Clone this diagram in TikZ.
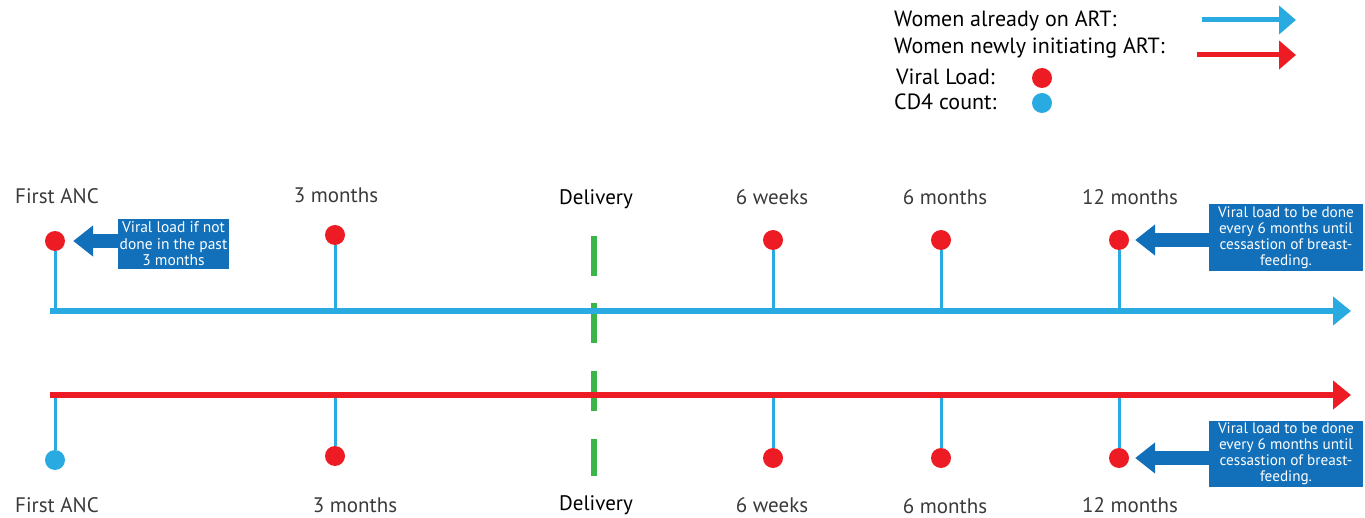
\documentclass[tikz,border=0pt]{standalone}
\usepackage{fontspec}
\setmainfont{PT Sans}
\usetikzlibrary{arrows.meta}
\definecolor{artblue}{HTML}{29ABE2}
\definecolor{artred}{HTML}{ED1C24}
\definecolor{delgreen}{HTML}{39B54A}
\definecolor{notebox}{HTML}{1170B9}
\definecolor{labgray}{HTML}{3A3A3A}
\tikzset{
  vldot/.style={circle, fill=artred, inner sep=0pt, minimum size=20pt},
  cddot/.style={circle, fill=artblue, inner sep=0pt, minimum size=20pt},
  tick/.style={artblue, line width=3pt},
  timelabel/.style={text=labgray, font=\fontsize{21}{25}\selectfont, inner sep=0pt},
  legtext/.style={anchor=west, font=\fontsize{22}{25}\selectfont, inner sep=0pt},
  notetext/.style={fill=notebox, text=white, align=center, inner sep=1pt,
    font=\fontsize{15.2}{16}\selectfont},
  notearrow/.style={notebox, line width=14pt, -{Triangle[length=20pt,width=30pt]}},
  bigline/.style={line width=6pt, -{Triangle[length=18pt,width=28pt]}},
  legline/.style={line width=5pt, -{Triangle[length=17pt,width=28pt]}},
}
\begin{document}
\begin{tikzpicture}[x=1pt,y=-1pt]
\useasboundingbox (0,0) rectangle (1365,518);

% legend
\node[legtext] (l1) at (894,21) {Women already on ART:};
\node[legtext] (l2) at (894,48) {Women newly initiating ART:};
\node[legtext] (l3) at (896,77) {Viral Load:};
\node[legtext] (l4) at (894,102) {CD4 count:};
\coordinate (la1) at (1202,20);
\coordinate (lb1) at (1296,20);
\coordinate (la2) at (1197,55);
\coordinate (lb2) at (1296,55);
\draw[legline, artblue] (la1) -- (lb1);
\draw[legline, artred] (la2) -- (lb2);
\node[vldot] (ldv) at (1042,78) {};
\node[cddot] (ldc) at (1042,103) {};

% delivery marker
\coordinate (dtop) at (594,236);
\coordinate (dbot) at (594,476);
\draw[delgreen, line width=6pt, dash pattern=on 40pt off 27.5pt] (dtop) -- (dbot);

% upper timeline: women already on ART
\coordinate (ua) at (50,311);
\coordinate (ub) at (1351,311);
\draw[bigline, artblue] (ua) -- (ub);
\node[vldot] (u1) at (55,241) {};
\node[vldot] (u2) at (335,235) {};
\node[vldot] (u3) at (773,240) {};
\node[vldot] (u4) at (941,240) {};
\node[vldot] (u5) at (1119,240) {};
\foreach \n in {1,...,5} \draw[tick] (u\n.south) -- (u\n.south |- ua);

\node[timelabel] (ut1) at (57,196) {First ANC};
\node[timelabel] (ut2) at (336,195) {3 months};
\node[timelabel, text=black] (ut3) at (596,199) {Delivery};
\node[timelabel] (ut4) at (772,197) {6 weeks};
\node[timelabel] (ut5) at (945,197) {6 months};
\node[timelabel] (ut6) at (1130,197) {12 months};

% lower timeline: women newly initiating ART
\coordinate (da) at (50,395);
\coordinate (db) at (1351,395);
\node[cddot] (d1) at (55,460) {};
\node[vldot] (d2) at (335,456) {};
\node[vldot] (d3) at (773,458) {};
\node[vldot] (d4) at (941,458) {};
\node[vldot] (d5) at (1119,458) {};
\foreach \n in {1,...,5} \draw[tick] (d\n.north) -- (d\n.north |- da);
\draw[bigline, artred] (da) -- (db);

\node[timelabel] (dt1) at (57,505) {First ANC};
\node[timelabel] (dt2) at (355,505) {3 months};
\node[timelabel, text=black] (dt3) at (596,505) {Delivery};
\node[timelabel] (dt4) at (772,505) {6 weeks};
\node[timelabel] (dt5) at (945,506) {6 months};
\node[timelabel] (dt6) at (1130,505) {12 months};

% callouts
\node[notetext, minimum width=111pt, minimum height=50pt,
  font=\fontsize{15.5}{16.5}\selectfont] (n1) at (173.5,244)
  {Viral load if not\\done in the past\\3 months};
\draw[notearrow] (n1.west |- u1) -- ([xshift=8pt]u1.east);

\node[notetext, minimum width=154pt, minimum height=67pt] (n2) at (1286,237.5)
  {Viral load to be done\\every 6 months until\\cessastion of breast-\\feeding.};
\draw[notearrow] (n2.west |- u5) -- ([xshift=6pt]u5.east);

\node[notetext, minimum width=154pt, minimum height=66pt] (n3) at (1286,454)
  {Viral load to be done\\every 6 months until\\cessastion of breast-\\feeding.};
\draw[notearrow] (n3.west |- d5) -- ([xshift=6pt]d5.east);
\end{tikzpicture}
\end{document}
